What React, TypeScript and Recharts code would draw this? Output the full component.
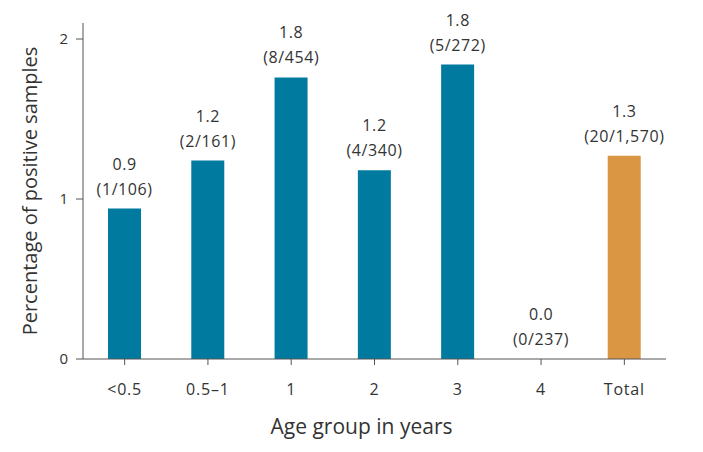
import { ComposedChart, Bar, Line, XAxis, YAxis, Cell, LabelList } from "recharts";

const ageGroups = ["<0.5", "0.5–1", "1", "2", "3", "4", "Total"];
const percentPositive = [0.94, 1.24, 1.76, 1.18, 1.84, 0, 1.27];
const valueLabels = ["0.9", "1.2", "1.8", "1.2", "1.8", "0.0", "1.3"];
const countLabels = ["(1/106)", "(2/161)", "(8/454)", "(4/340)", "(5/272)", "(0/237)", "(20/1,570)"];
const yTicks = [0, 1, 2];

const TEAL = "#007b9f";
const ORANGE = "#da9642";
const FONT = "'Open Sans', sans-serif";

const data = ageGroups.map((g, i) => ({
  group: g,
  pct: percentPositive[i],
  value: valueLabels[i],
  count: countLabels[i],
}));

function BarLabel(props: any) {
  const { x, y, index } = props;
  const d = data[index];
  return (
    <g fontFamily={FONT} fontSize={16} fill="#333" letterSpacing={0.6}>
      <text x={x} y={y - 39} textAnchor="middle">
        {d.value}
      </text>
      <text x={x} y={y - 14} textAnchor="middle">
        {d.count}
      </text>
    </g>
  );
}

export default function App() {
  return (
    <div style={{ position: "absolute", left: 0, top: 0, background: "#fff" }}>
      <ComposedChart
        width={703}
        height={452}
        data={data}
        margin={{ top: 23, right: 37, bottom: 43, left: 23 }}
      >
        <XAxis
          dataKey="group"
          height={50}
          stroke="#555"
          tickSize={6}
          tickMargin={19}
          tick={{ fill: "#333", fontSize: 16, fontFamily: FONT, letterSpacing: 0.8 }}
          interval={0}
          label={{
            value: "Age group in years",
            position: "bottom",
            offset: 10,
            dx: -13,
            fill: "#333",
            fontSize: 21,
            fontFamily: FONT,
          }}
        />
        <YAxis
          domain={[0, 2.1]}
          ticks={yTicks}
          width={60}
          stroke="#555"
          tickSize={7}
          tickMargin={8}
          tick={{ fill: "#333", fontSize: 15, fontFamily: FONT }}
          label={{
            value: "Percentage of positive samples",
            angle: -90,
            position: "insideLeft",
            offset: 0,
            dx: 7,
            fill: "#333",
            fontSize: 20,
            fontFamily: FONT,
            style: { textAnchor: "middle" },
          }}
        />
        <Bar dataKey="pct" barSize={33} isAnimationActive={false}>
          {data.map((d, i) => (
            <Cell key={d.group} fill={i === data.length - 1 ? ORANGE : TEAL} />
          ))}
        </Bar>
        <Line
          dataKey="pct"
          stroke="none"
          dot={false}
          activeDot={false}
          isAnimationActive={false}
        >
          <LabelList dataKey="pct" content={<BarLabel />} />
        </Line>
      </ComposedChart>
    </div>
  );
}
